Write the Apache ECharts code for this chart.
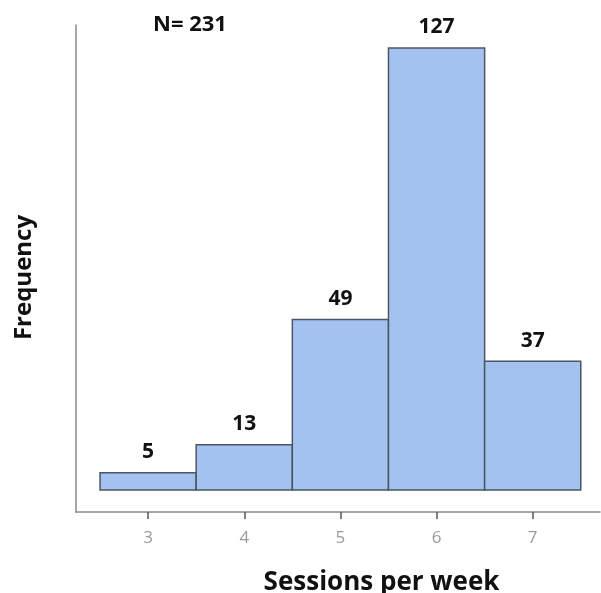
<!DOCTYPE html>
<html>
<head>
<meta charset="utf-8">
<script src="https://cdn.jsdelivr.net/npm/echarts@6/dist/echarts.min.js"></script>
<style>html,body{margin:0;padding:0;background:#fff;}#c{width:601px;height:593px;}</style>
</head>
<body>
<div id="c"></div>
<script>
const sessions = [3, 4, 5, 6, 7];
const frequency = [5, 13, 49, 127, 37];
const tickValues = [3, 4, 5, 6, 7];
const totalLabel = 'N= 231';

const data = sessions.map((s, i) => [s, frequency[i]]);
const chart = echarts.init(document.getElementById('c'));
const FONT = '"Open Sans", "Noto Sans", sans-serif';
chart.setOption({
  animation: false,
  backgroundColor: '#fff',
  title: {
    text: totalLabel,
    left: 148, top: 9,
    textStyle: {fontFamily: FONT, fontWeight: 'bold', fontSize: 22, color: '#111'}
  },
  grid: {left: 76, right: 1, top: 25, bottom: 81, containLabel: false, outerBoundsMode: 'none'},
  xAxis: {
    type: 'value',
    min: 2.25, max: 7.7,
    splitLine: {show: false},
    axisLine: {show: true, onZero: false, lineStyle: {color: '#8a8a8a', width: 1.5}},
    axisTick: {show: true, customValues: tickValues, length: 7, lineStyle: {color: '#555', width: 1.5}},
    axisLabel: {show: true, customValues: tickValues, margin: 18, color: '#9a9a9a', fontSize: 17, fontFamily: FONT},
    name: 'Sessions per week',
    nameLocation: 'middle',
    nameGap: 58,
    nameTextStyle: {fontFamily: FONT, fontWeight: 'bold', fontSize: 26, color: '#111', padding: [0, 0, 0, 87]}
  },
  yAxis: {
    type: 'value',
    min: -6.3, max: 133.6,
    splitLine: {show: false},
    axisLine: {show: true, onZero: false, lineStyle: {color: '#8a8a8a', width: 1.5}},
    axisTick: {show: false},
    axisLabel: {show: false},
    name: 'Frequency',
    nameLocation: 'middle',
    nameRotate: 90,
    nameGap: 40,
    nameTextStyle: {fontFamily: FONT, fontWeight: 'bold', fontSize: 24, color: '#111', padding: [0, 18, 0, 0]}
  },
  series: [{
    type: 'custom',
    data: data,
    renderItem: function (params, api) {
      const x = api.value(0), y = api.value(1);
      const p1 = api.coord([x - 0.5, y]);
      const p2 = api.coord([x + 0.5, 0]);
      return {
        type: 'group',
        children: [{
          type: 'rect',
          shape: {x: p1[0], y: p1[1], width: p2[0] - p1[0], height: p2[1] - p1[1]},
          style: {fill: '#a4c2f0', stroke: '#4b5563', lineWidth: 1.5}
        }, {
          type: 'text',
          style: {
            text: String(y), x: (p1[0] + p2[0]) / 2, y: p1[1] - 10,
            align: 'center', verticalAlign: 'bottom',
            font: 'bold 21px ' + FONT, fill: '#111'
          }
        }]
      };
    }
  }]
});
</script>
</body>
</html>
